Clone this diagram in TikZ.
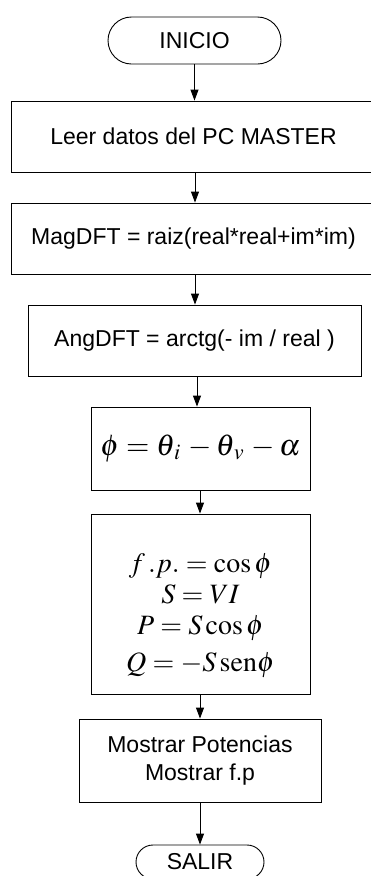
\documentclass[tikz,border=0pt]{standalone}
\usepackage{mathptmx}
\usepackage[no-math]{fontspec}
\setmainfont{Liberation Sans}
\usetikzlibrary{shapes.misc,arrows.meta}
\tikzset{
  box/.style={draw,line width=0.9pt,rectangle,inner sep=0pt,font=\fontsize{23}{27}\selectfont,align=center},
  term/.style={draw,line width=0.9pt,rounded rectangle,inner sep=0pt,font=\fontsize{23}{27}\selectfont},
  arr/.style={line width=0.9pt,-{Triangle[length=11pt,width=8pt]}}
}
\begin{document}
\begin{tikzpicture}[x=1pt,y=-1pt]
\useasboundingbox (0,0) rectangle (371,876);
\clip (0,0) rectangle (371,876);
\node[term,minimum width=173pt,minimum height=47pt] (ini) at (194.5,40.5) {INICIO};
\node[box,minimum width=365pt,minimum height=71pt] (b1) at (193.5,136.5) {Leer datos del PC MASTER};
\node[box,minimum width=365pt,minimum height=71pt] (b2) at (193.5,238.5) {MagDFT = raiz(real*real+im*im)};
\node[box,minimum width=333pt,minimum height=71pt] (b3) at (194.5,340.5) {AngDFT = arctg(- im / real )};
\node[box,minimum width=219pt,minimum height=83pt,font=\fontsize{30}{34}\selectfont] (b4) at (200.5,448.5) {$\phi=\theta_{\,i}\,-\theta_{\,v}\,-\alpha$};
\node[box,minimum width=219pt,minimum height=180pt,
  label={[name=b5t,font={\fontsize{28}{31}\selectfont\lineskiplimit=-100pt},align=center,yshift=-12pt]center:$f\,.p.=\cos\phi$\\[0pt]$S=VI$\\[0pt]$P=S\cos\phi$\\[6pt]$Q=-S\,\mathrm{sen}\phi$}] (b5) at (200.5,604) {};
\node[box,minimum width=242pt,minimum height=83pt,font=\fontsize{23}{28}\selectfont] (b6) at (200,760.5) {Mostrar Potencias\\Mostrar f.p};
\node[term,minimum width=128pt,minimum height=34pt] (sal) at (200,862) {SALIR};
\draw[arr] (ini.south) -- (ini.south |- b1.north);
\draw[arr] ([xshift=1.5pt]b1.south) -- ([xshift=1.5pt]b2.north);
\draw[arr] ([xshift=1.5pt]b2.south) -- ([xshift=0.5pt]b3.north);
\draw[arr] ([xshift=2.5pt]b3.south) -- ([xshift=-3.5pt]b4.north);
\draw[arr] ([xshift=-0.5pt]b4.south) -- ([xshift=-0.5pt]b5.north);
\draw[arr] ([xshift=-0.5pt]b5.south) -- (b6.north);
\draw[arr] (b6.south) -- (sal.north);
\end{tikzpicture}
\end{document}
